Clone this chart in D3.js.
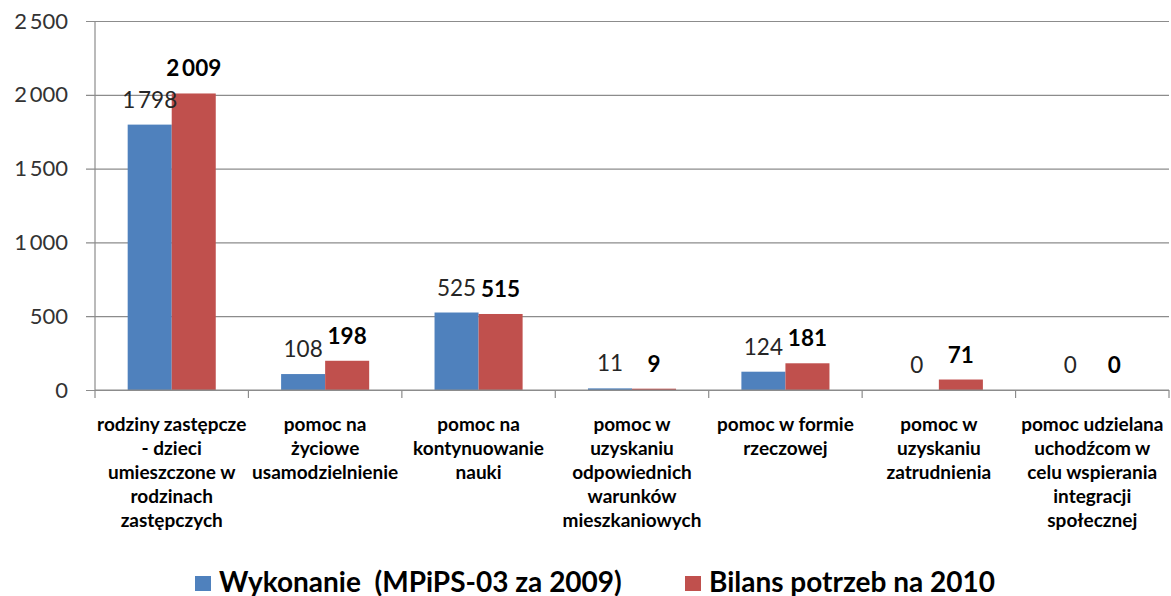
<!DOCTYPE html>
<html>
<head>
<meta charset="utf-8">
<script src="https://cdn.jsdelivr.net/npm/d3@7"></script>
<style>
  html, body { margin: 0; padding: 0; background: #fff; }
  svg { display: block; font-family: Lato, "Open Sans", sans-serif; }
</style>
</head>
<body>
<svg id="chart" width="1171" height="596"></svg>
<script>
// categories, each split into the lines shown under the axis
const categories = [
  ['rodziny zastępcze', '- dzieci', 'umieszczone w', 'rodzinach', 'zastępczych'],
  ['pomoc na', 'życiowe', 'usamodzielnienie'],
  ['pomoc na', 'kontynuowanie', 'nauki'],
  ['pomoc w', 'uzyskaniu', 'odpowiednich', 'warunków', 'mieszkaniowych'],
  ['pomoc w formie', 'rzeczowej'],
  ['pomoc w', 'uzyskaniu', 'zatrudnienia'],
  ['pomoc udzielana', 'uchodźcom w', 'celu wspierania', 'integracji', 'społecznej']
];

const seriesNames = ['Wykonanie  (MPiPS-03 za 2009)', 'Bilans potrzeb na 2010'];
const wykonanie = [1798, 108, 525, 11, 124, 0, 0];
const bilans = [2009, 198, 515, 9, 181, 71, 0];
const yTicks = [0, 500, 1000, 1500, 2000, 2500];

const colors = ['#4F81BD', '#C0504D'];

const w = 1171;
const h = 596;

const margin = {
  top: 21,
  right: 2,
  bottom: 206,
  left: 95
};

const locale = d3.formatLocale({ decimal: ',', thousands: '\u2009', grouping: [3], currency: ['', ''] });
const fmt = locale.format(',d');

const svg = d3.select('#chart');

const x = d3.scaleBand()
  .domain(d3.range(categories.length))
  .range([margin.left, w - margin.right]);

const y = d3.scaleLinear()
  .domain([0, 2500])
  .range([h - margin.bottom, margin.top]);

// inner band for the two series
const gap = x.bandwidth() * 0.213;
const x1 = d3.scaleBand()
  .domain([0, 1])
  .range([gap, x.bandwidth() - gap]);

// gridlines + y axis
const yAxis = svg.append('g')
  .attr('transform', `translate(${margin.left}, 0)`)
  .call(d3.axisLeft(y)
    .tickValues(yTicks)
    .tickSize(9)
    .tickPadding(18)
    .tickFormat(fmt));

yAxis.select('.domain').remove();
yAxis.selectAll('.tick line')
  .attr('x2', w - margin.right - margin.left)
  .attr('x1', -9)
  .attr('stroke', '#8c8c8c')
  .attr('stroke-width', 1.2);
yAxis.selectAll('.tick text')
  .attr('fill', '#333')
  .style('font-size', '22px')
  .style('font-family', 'Lato, sans-serif');

// bars
const data = categories.map((c, i) => [wykonanie[i], bilans[i]]);

const groups = svg.append('g')
  .selectAll('g')
  .data(data)
  .join('g')
    .attr('transform', (d, i) => `translate(${x(i)}, 0)`);

groups.selectAll('rect')
  .data((d) => d)
  .join('rect')
    .attr('x', (d, j) => x1(j))
    .attr('y', (d) => y(d))
    .attr('width', x1.bandwidth())
    .attr('height', (d) => y(0) - y(d))
    .attr('fill', (d, j) => colors[j]);

groups.selectAll('text')
  .data((d) => d)
  .join('text')
    .attr('x', (d, j) => x1(j) + x1.bandwidth() / 2)
    .attr('y', (d) => y(d) - 17)
    .attr('text-anchor', 'middle')
    .attr('fill', (d, j) => j ? '#000' : '#262626')
    .style('font-size', '22.5px')
    .style('font-weight', (d, j) => j ? 'bold' : 'normal')
    .text((d) => fmt(d));

// x axis line with ticks at category boundaries
const xAxis = svg.append('g');
xAxis.append('line')
  .attr('x1', margin.left)
  .attr('x2', w - margin.right)
  .attr('y1', y(0))
  .attr('y2', y(0))
  .attr('stroke', '#8c8c8c')
  .attr('stroke-width', 1.2);

xAxis.append('line')
  .attr('x1', margin.left)
  .attr('x2', margin.left)
  .attr('y1', margin.top)
  .attr('y2', y(0) + 8)
  .attr('stroke', '#8c8c8c')
  .attr('stroke-width', 1.2);

xAxis.selectAll('.xtick')
  .data(d3.range(1, categories.length + 1))
  .join('line')
    .attr('class', 'xtick')
    .attr('x1', (i) => margin.left + i * x.bandwidth())
    .attr('x2', (i) => margin.left + i * x.bandwidth())
    .attr('y1', y(0))
    .attr('y2', y(0) + 8)
    .attr('stroke', '#8c8c8c')
    .attr('stroke-width', 1.2);

// category labels
const lineHeight = 24;
xAxis.selectAll('.xlabel')
  .data(categories)
  .join('text')
    .attr('class', 'xlabel')
    .attr('text-anchor', 'middle')
    .attr('fill', '#000')
    .style('font-size', '19px')
    .style('font-weight', 'bold')
    .each(function (lines, i) {
      d3.select(this)
        .selectAll('tspan')
        .data(lines)
        .join('tspan')
          .attr('x', x(i) + x.bandwidth() / 2)
          .attr('y', (l, k) => y(0) + 41 + k * lineHeight)
          .text((l) => l);
    });

// legend
const legendX = [195, 685];
const legend = svg.append('g')
  .selectAll('g')
  .data(seriesNames)
  .join('g')
    .attr('transform', (d, i) => `translate(${legendX[i]}, 576)`);

legend.append('rect')
  .attr('width', 16)
  .attr('height', 15)
  .attr('fill', (d, i) => colors[i]);

legend.append('text')
  .attr('x', 24)
  .attr('y', 15.5)
  .attr('fill', '#000')
  .style('font-size', '28px')
  .style('font-weight', 'bold')
  .style('white-space', 'pre')
  .text((d) => d);
</script>
</body>
</html>
